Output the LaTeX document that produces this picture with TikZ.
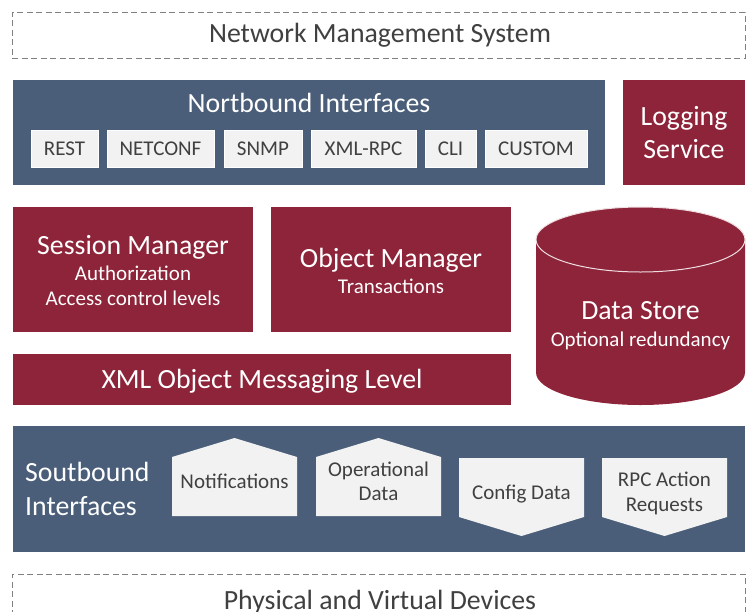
\documentclass[tikz,border=0pt]{standalone}
\usepackage{fontspec}
\setmainfont{Carlito}
\definecolor{nbblue}{RGB}{74,94,122}
\definecolor{nbred}{RGB}{142,36,57}
\definecolor{chip}{RGB}{242,242,242}
\definecolor{dashgray}{RGB}{128,128,128}
\definecolor{darktext}{RGB}{64,64,64}
\tikzset{
  bigtext/.style={font=\fontsize{27.8}{33}\selectfont, text height=16pt, text depth=0pt, inner sep=0pt},
  smalltext/.style={font=\fontsize{21}{25}\selectfont, text height=12pt, text depth=0pt, inner sep=0pt},
  bluebox/.style={fill=nbblue, draw=none, inner sep=0pt, outer sep=0pt},
  redbox/.style={fill=nbred, draw=none, inner sep=0pt, outer sep=0pt},
  chipbox/.style={fill=chip, draw=white, line width=0.6pt, inner sep=0pt, outer sep=0pt, minimum height=37pt},
  dashbox/.style={draw=dashgray, line width=1pt, dash pattern=on 6pt off 3.5pt, inner sep=0pt, outer sep=0pt},
  arrowshape/.style={fill=chip, draw=none},
}
\begin{document}
\begin{tikzpicture}[x=1pt,y=-1pt]
\useasboundingbox (0,0) rectangle (749,611);
\fill[white] (0,0) rectangle (749,611);

% Network Management System
\node[dashbox, minimum width=733pt, minimum height=46pt] (nms) at (378.5,35) {};
\node[bigtext, text=darktext] (nmst) at (380,34) {Network Management System};

% Northbound
\node[bluebox, minimum width=592pt, minimum height=105pt] (nb) at (309,132.5) {};
\node[bigtext, text=white] (nbt) at (309,104) {Nortbound Interfaces};
\node[chipbox, minimum width=67pt] (rest) at (64.5,149) {};
\node[smalltext, text=darktext] at (rest) {REST};
\node[chipbox, minimum width=107pt] (netconf) at (160.5,149) {};
\node[smalltext, text=darktext] at (netconf) {NETCONF};
\node[chipbox, minimum width=78pt] (snmp) at (263,149) {};
\node[smalltext, text=darktext] at (snmp) {SNMP};
\node[chipbox, minimum width=105pt] (xmlrpc) at (363.5,149) {};
\node[smalltext, text=darktext] at (xmlrpc) {XML-RPC};
\node[chipbox, minimum width=51pt] (cli) at (450.5,149) {};
\node[smalltext, text=darktext] at (cli) {CLI};
\node[chipbox, minimum width=102pt] (custom) at (536,149) {};
\node[smalltext, text=darktext] at (custom) {CUSTOM};

% Logging service
\node[redbox, minimum width=122pt, minimum height=105pt] (log) at (684,132.5) {};
\node[bigtext, text=white] (logt1) at (684,117) {Logging};
\node[bigtext, text=white] (logt2) at (684,150) {Service};

% Session manager
\node[redbox, minimum width=240pt, minimum height=125pt] (sess) at (133,269.5) {};
\node[bigtext, text=white] (sesst) at (133,246) {Session Manager};
\node[smalltext, text=white] (sesst2) at (133,274) {Authorization};
\node[smalltext, text=white] (sesst3) at (133,299) {Access control levels};

% Object manager
\node[redbox, minimum width=240pt, minimum height=125pt] (obj) at (391,269.5) {};
\node[bigtext, text=white] (objt) at (391,259) {Object Manager};
\node[smalltext, text=white] (objt2) at (391,287) {Transactions};

% XML messaging
\node[redbox, minimum width=498pt, minimum height=51pt] (xml) at (262,379.5) {};
\node[bigtext, text=white] (xmlt) at (262,380) {XML Object Messaging Level};

% Data store cylinder
\coordinate (ds) at (640.5,306);
\fill[nbred] (536,239.5) -- (536,372.5) arc[start angle=180, end angle=360, x radius=104.5, y radius=-32.5] -- (745,239.5) arc[start angle=0, end angle=180, x radius=104.5, y radius=32.5] -- cycle;
\fill[nbred] (640.5,239.5) ellipse[x radius=104.5, y radius=32.5];
\draw[white!85!nbred, line width=1pt] (640.5,239.5) ellipse[x radius=104.5, y radius=32.5];
\node[bigtext, text=white] (dst) at (640.5,311) {Data Store};
\node[smalltext, text=white] (dst2) at (640.5,340) {Optional redundancy};

% Southbound
\node[bluebox, minimum width=732pt, minimum height=126pt] (sb) at (379,489) {};
\node[bigtext, text=white, anchor=west] (sbt1) at (25,473) {Soutbound};
\node[bigtext, text=white, anchor=west] (sbt2) at (25,507) {Interfaces};

\fill[arrowshape] (172,516) -- (172,457) -- (234.5,438) -- (297,457) -- (297,516) -- cycle;
\node[smalltext, text=darktext] (notif) at (234.5,482) {Notifications};
\fill[arrowshape] (316,516) -- (316,457) -- (378.5,438) -- (441,457) -- (441,516) -- cycle;
\node[smalltext, text=darktext] (oper1) at (378.5,470) {Operational};
\node[smalltext, text=darktext] (oper2) at (378.5,494) {Data};
\fill[arrowshape] (459,458) -- (584,458) -- (584,517) -- (521.5,536) -- (459,517) -- cycle;
\node[smalltext, text=darktext] (conf) at (521.5,493) {Config Data};
\fill[arrowshape] (602,458) -- (727,458) -- (727,517) -- (664.5,536) -- (602,517) -- cycle;
\node[smalltext, text=darktext] (rpc1) at (664.5,480) {RPC Action};
\node[smalltext, text=darktext] (rpc2) at (664.5,505) {Requests};

% Physical devices
\node[dashbox, minimum width=733pt, minimum height=56pt] (pvd) at (378.5,602) {};
\node[bigtext, text=darktext] (pvdt) at (380,601) {Physical and Virtual Devices};
\end{tikzpicture}
\end{document}
